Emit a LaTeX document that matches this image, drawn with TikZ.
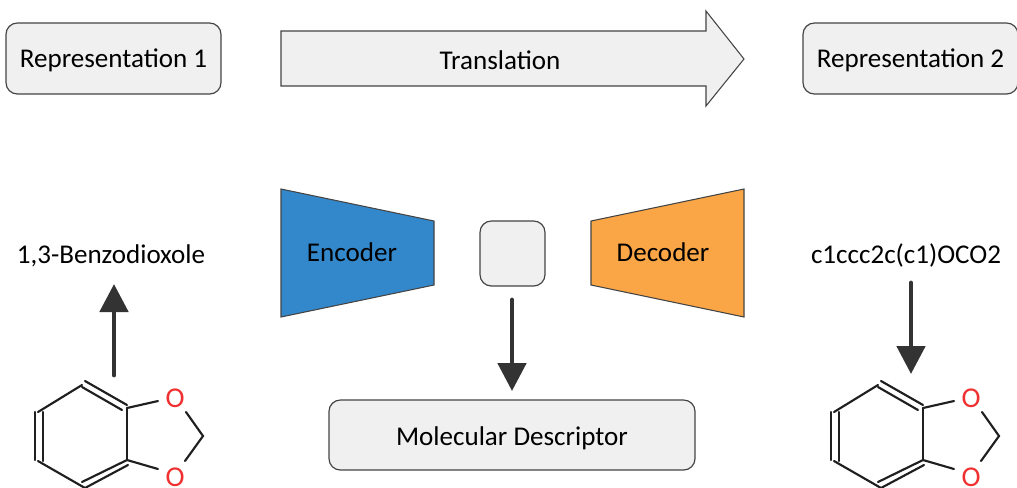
\documentclass[tikz,border=0pt]{standalone}
\usepackage{fontspec}
\setmainfont{Carlito}
\usetikzlibrary{arrows.meta}
\definecolor{boxfill}{HTML}{F0F0F0}
\definecolor{boxedge}{HTML}{444444}
\definecolor{encblue}{HTML}{3388CC}
\definecolor{decorange}{HTML}{FBA646}
\definecolor{arrowdark}{HTML}{333333}
\definecolor{oxygen}{HTML}{F03030}
\tikzset{
  x=0.75pt,y=-0.75pt,
  label text/.style={font=\fontsize{20.3pt}{24pt}\selectfont,text=black,inner sep=0pt,text height=15.5pt,text depth=1.5pt},
  roundbox/.style={draw=boxedge,line width=0.9pt,fill=boxfill,rounded corners=8.5pt,inner sep=0pt,font=\fontsize{20.3pt}{24pt}\selectfont,text height=15.5pt,text depth=1.5pt},
  shapeedge/.style={draw=boxedge,line width=0.8pt,line join=miter},
  thick arrow/.style={draw=arrowdark,line width=3.7pt,line cap=round,-{Triangle[length=21pt,width=21pt]}},
  bond/.style={draw=black!88,line width=1.6pt,line cap=round},
  oatom/.style={text=oxygen,font=\fontsize{21.5pt}{24pt}\selectfont,inner sep=0pt},
  pics/molecule/.style={code={
    \node[oatom] (-o1) at (175,398.5) {O};
    \node[oatom] (-o2) at (175,477.5) {O};
    \coordinate (-a) at (127,408);
    \coordinate (-b) at (127,460);
    \coordinate (-m) at (203,436);
    \draw[bond] (38,412) -- (82,385);
    \draw[bond] (85,381) -- (127,405);
    \draw[bond] (82,387) -- (122,410);
    \draw[bond] (35,412) -- (35,460);
    \draw[bond] (43,412) -- (43,461);
    \draw[bond] (38,461) -- (85,488);
    \draw[bond] (-a) -- (-b);
    \draw[bond] (127,460) -- (82,482);
    \draw[bond] (128,465) -- (85,488);
    \draw[bond] (-a) -- (158,401);
    \draw[bond] (-b) -- (158,469);
    \draw[bond] (186,412) -- (-m) -- (185,461);
  }}
}
\begin{document}
\begin{tikzpicture}
\useasboundingbox (0,0) rectangle (1017,487);
\clip (0,0) rectangle (1017,487);
\node[roundbox,minimum width=161.25pt,minimum height=53.25pt] (rep1) at (113.5,58.5) {Representation 1};
\node[roundbox,minimum width=161.25pt,minimum height=53.25pt] (rep2) at (910.5,58.5) {Representation 2};
\draw[shapeedge,fill=boxfill] (281,31) -- (706,31) -- (706,11) -- (744,59) -- (706,106) -- (706,86) -- (281,86) -- cycle;
\node[label text] (trans) at (500,59.7) {Translation};
\draw[shapeedge,fill=encblue] (281,189) -- (434,221) -- (434,285) -- (281,317) -- cycle;
\node[label text] (enc) at (352,252.3) {Encoder};
\draw[shapeedge,fill=decorange] (591,221) -- (744,189) -- (744,317) -- (591,285) -- cycle;
\node[label text] (dec) at (663,252.3) {Decoder};
\node[roundbox,minimum width=48.75pt,minimum height=48.75pt] (latent) at (512.5,253.5) {};
\node[roundbox,minimum width=274.5pt,minimum height=52.5pt,text height=17pt] (desc) at (512,435) {Molecular Descriptor};
\node[label text] (name) at (111,254.5) {1,3-Benzodioxole};
\node[label text] (smiles) at (906,254.5) {c1ccc2c(c1)OCO2};
\coordinate (a1s) at (114,375);
\coordinate (a1e) at (114,284);
\coordinate (a2s) at (512,300);
\coordinate (a2e) at (512,391);
\coordinate (a3s) at (911,283);
\coordinate (a3e) at (911,374);
\draw[thick arrow] (a1s) -- (a1e);
\draw[thick arrow] (a2s) -- (a2e);
\draw[thick arrow] (a3s) -- (a3e);
\pic (left) at (0,0) {molecule};
\pic (right) at (796,0) {molecule};
\end{tikzpicture}
\end{document}
